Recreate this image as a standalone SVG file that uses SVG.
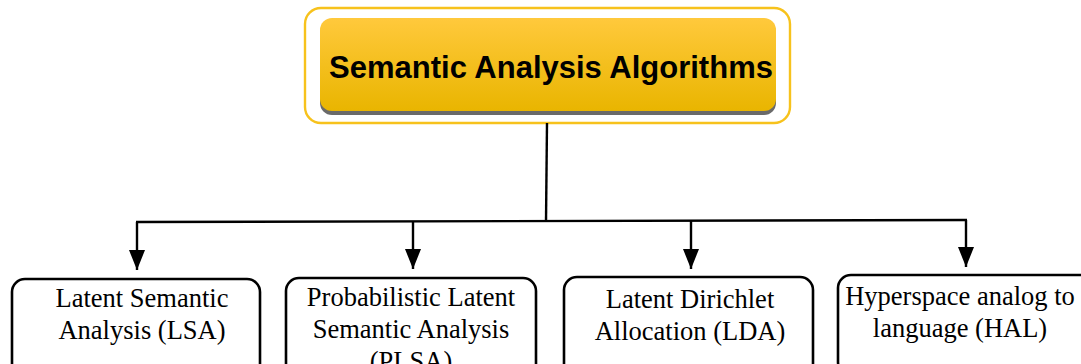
<svg xmlns="http://www.w3.org/2000/svg" width="1081" height="364" viewBox="0 0 1081 364">
<defs>
<linearGradient id="gold" x1="0" y1="0" x2="0" y2="1">
<stop offset="0" stop-color="#FFC93C"/>
<stop offset="1" stop-color="#E9B500"/>
</linearGradient>
<marker id="arrh" viewBox="0 0 20 16" refX="20" refY="8" markerWidth="20" markerHeight="16" markerUnits="userSpaceOnUse" orient="auto">
<path d="M0,0 L20,8 L0,16 z" fill="#000"/>
</marker>
</defs>
<style>
.box{fill:#fff;stroke:#000;stroke-width:2.6}
.lbl{font-family:"Liberation Serif","Times New Roman",serif;font-size:26.5px;fill:#000;text-anchor:middle}
.title{font-family:"Liberation Sans",Arial,sans-serif;font-size:31px;font-weight:bold;fill:#000;text-anchor:middle}
.conn{stroke:#000;stroke-width:2.4;fill:none}
</style>
<g id="root">
<rect x="305" y="8" width="485" height="115" rx="16" fill="#fff" stroke="#F7C21C" stroke-width="2.4"/>
<rect x="320" y="21" width="456" height="94" rx="12" fill="#6a6a6a"/>
<rect x="320" y="18" width="456" height="93" rx="12" fill="url(#gold)"/>
<text class="title" x="551" y="78">Semantic Analysis Algorithms</text>
</g>
<g id="connectors">
<line class="conn" x1="547" y1="123" x2="546" y2="221"/>
<line class="conn" x1="136" y1="222" x2="967" y2="220"/>
<line class="conn" x1="137" y1="222" x2="137" y2="270" marker-end="url(#arrh)"/>
<line class="conn" x1="413" y1="221" x2="413" y2="269" marker-end="url(#arrh)"/>
<line class="conn" x1="691" y1="221" x2="691" y2="269" marker-end="url(#arrh)"/>
<line class="conn" x1="966" y1="220" x2="966" y2="267" marker-end="url(#arrh)"/>
</g>
<g id="lsa">
<rect class="box" x="12" y="279" width="248" height="100" rx="13"/>
<text class="lbl" x="142" y="307">Latent Semantic</text>
<text class="lbl" x="142" y="339">Analysis (LSA)</text>
</g>
<g id="plsa">
<rect class="box" x="286" y="278" width="250" height="100" rx="13"/>
<text class="lbl" x="411" y="306">Probabilistic Latent</text>
<text class="lbl" x="411" y="338">Semantic Analysis</text>
<text class="lbl" x="411" y="370">(PLSA)</text>
</g>
<g id="lda">
<rect class="box" x="564" y="277" width="249" height="100" rx="13"/>
<text class="lbl" x="690" y="308">Latent Dirichlet</text>
<text class="lbl" x="690" y="340">Allocation (LDA)</text>
</g>
<g id="hal">
<rect class="box" x="838" y="275" width="260" height="100" rx="13"/>
<text class="lbl" x="960" y="305">Hyperspace analog to</text>
<text class="lbl" x="960" y="337">language (HAL)</text>
</g>
</svg>
